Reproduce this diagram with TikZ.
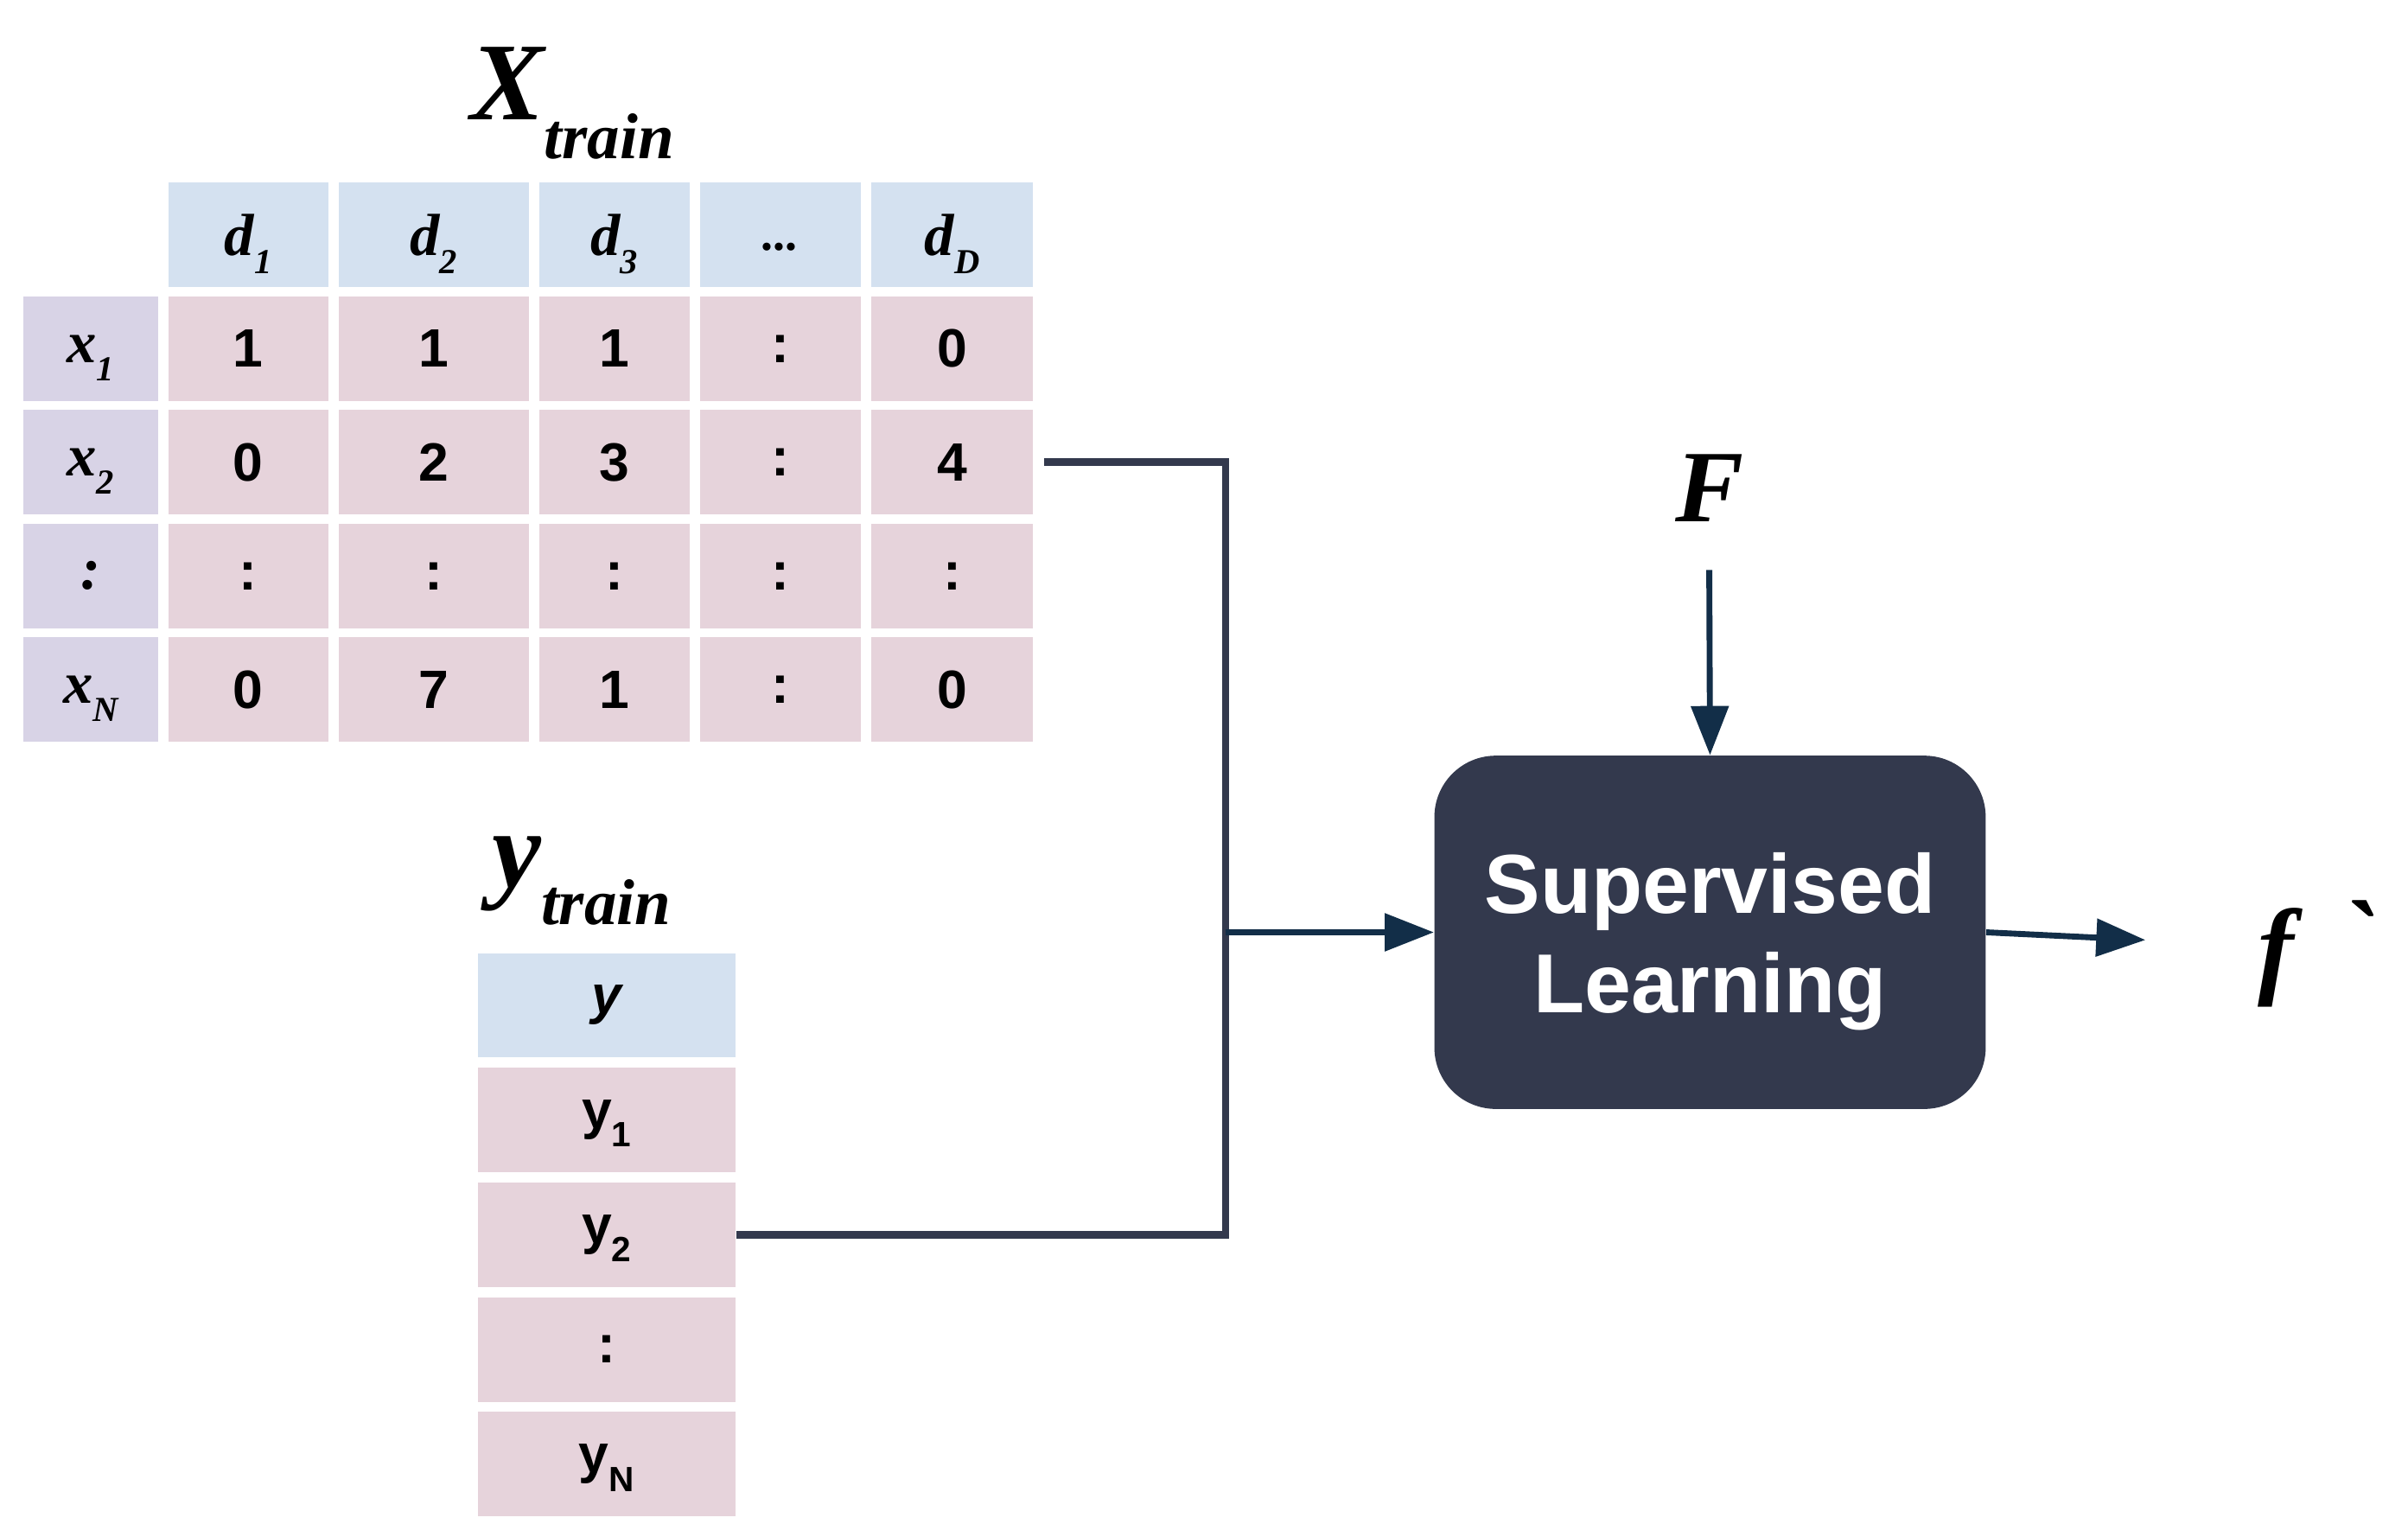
\documentclass[tikz,border=0pt]{standalone}
\usepackage{fontspec}
\setmainfont{Liberation Serif}
\setsansfont{Liberation Sans}
\newfontfamily\rawserif{Liberation Serif}[Ligatures=TeXOff]
\usetikzlibrary{chains,positioning,arrows.meta}
\definecolor{headblue}{RGB}{212,225,240}
\definecolor{cellpink}{RGB}{230,211,219}
\definecolor{rowlilac}{RGB}{216,211,230}
\definecolor{boxgrey}{RGB}{51,57,77}
\definecolor{arrownavy}{RGB}{18,46,72}
\newcommand\lowsub[1]{\raisebox{-0.24cm}[0pt][0pt]{\fontsize{13}{13}\selectfont #1}}
\newcommand\lowline[1]{\raisebox{-0.12cm}[\height][\depth]{#1}}
\tikzstyle{tcell}=[minimum height=1.36cm, inner sep=0pt, font=\sffamily\bfseries\fontsize{20}{20}\selectfont]
\tikzstyle{hcell}=[tcell, fill=headblue, font=\bfseries\itshape\fontsize{22}{22}\selectfont]
\tikzstyle{vcell}=[tcell, fill=cellpink]
\tikzstyle{rcell}=[tcell, fill=rowlilac, minimum width=1.76cm, font=\bfseries\itshape\fontsize{22}{22}\selectfont]
\tikzstyle{bus}=[draw=boxgrey, line width=2.8pt]
\tikzstyle{arr}=[draw=arrownavy, line width=2.2pt, -{Triangle[length=6.4mm,width=4.8mm]}]

\begin{document}
\begin{tikzpicture}
		\useasboundingbox (0,0) rectangle (31.36,-19.84);
		% X_train
		\node [anchor=base west, inner sep=0pt, font=\bfseries\itshape\fontsize{41}{41}\selectfont] (xTitle) at (6.12,-1.56) {X\raisebox{-0.5cm}{\fontsize{24}{24}\selectfont train}};
		\begin{scope}[shift={(1.18,-3.06)}, start chain=1 going right,node distance=1.2mm]
			\node [on chain=1,tcell, minimum width=1.76cm] (hdrBlank) {};
			\node [on chain=1,hcell, minimum width=2.08cm] (hdrD1) {d\lowsub{1}};
			\node [on chain=1,hcell, minimum width=2.48cm] (hdrD2) {d\lowsub{2}};
			\node [on chain=1,hcell, minimum width=1.96cm] (hdrD3) {d\lowsub{3}};
			\node [on chain=1,hcell, minimum width=2.10cm] (hdrDots) {\fontsize{18}{18}\selectfont\raisebox{-0.2cm}[0pt][0pt]{...}};
			\node [on chain=1,hcell, minimum width=2.10cm] (hdrDD) {d\lowsub{D}};
		\end{scope}
		\begin{scope}[shift={(1.18,-4.54)}, start chain=1 going right,node distance=1.2mm]
			\node [on chain=1,rcell] (x1Lab) {x\lowsub{1}};
			\node [on chain=1,vcell, minimum width=2.08cm] (x1d1) {1};
			\node [on chain=1,vcell, minimum width=2.48cm] (x1d2) {1};
			\node [on chain=1,vcell, minimum width=1.96cm] (x1d3) {1};
			\node [on chain=1,vcell, minimum width=2.10cm] (x1Dots) {:};
			\node [on chain=1,vcell, minimum width=2.10cm] (x1dD) {0};
		\end{scope}
		\begin{scope}[shift={(1.18,-6.02)}, start chain=1 going right,node distance=1.2mm]
			\node [on chain=1,rcell] (x2Lab) {x\lowsub{2}};
			\node [on chain=1,vcell, minimum width=2.08cm] (x2d1) {0};
			\node [on chain=1,vcell, minimum width=2.48cm] (x2d2) {2};
			\node [on chain=1,vcell, minimum width=1.96cm] (x2d3) {3};
			\node [on chain=1,vcell, minimum width=2.10cm] (x2Dots) {:};
			\node [on chain=1,vcell, minimum width=2.10cm] (x2dD) {4};
		\end{scope}
		\begin{scope}[shift={(1.18,-7.50)}, start chain=1 going right,node distance=1.2mm]
			\node [on chain=1,rcell] (xkLab) {:};
			\node [on chain=1,vcell, minimum width=2.08cm] (xkd1) {:};
			\node [on chain=1,vcell, minimum width=2.48cm] (xkd2) {:};
			\node [on chain=1,vcell, minimum width=1.96cm] (xkd3) {:};
			\node [on chain=1,vcell, minimum width=2.10cm] (xkDots) {:};
			\node [on chain=1,vcell, minimum width=2.10cm] (xkdD) {:};
		\end{scope}
		\begin{scope}[shift={(1.18,-8.98)}, start chain=1 going right,node distance=1.2mm]
			\node [on chain=1,rcell] (xNLab) {x\lowsub{N}};
			\node [on chain=1,vcell, minimum width=2.08cm] (xNd1) {0};
			\node [on chain=1,vcell, minimum width=2.48cm] (xNd2) {7};
			\node [on chain=1,vcell, minimum width=1.96cm] (xNd3) {1};
			\node [on chain=1,vcell, minimum width=2.10cm] (xNDots) {:};
			\node [on chain=1,vcell, minimum width=2.10cm] (xNdD) {0};
		\end{scope}
		% y_train
		\node [anchor=base west, inner sep=0pt, font=\bfseries\itshape\fontsize{41}{41}\selectfont] (yTitle) at (6.40,-11.56) {y\raisebox{-0.48cm}{\fontsize{24}{24}\selectfont train}};
		\begin{scope}[shift={(7.90,-13.09)}, start chain=2 going below,node distance=1.2mm]
			\node [on chain=2,hcell, minimum width=3.36cm, font=\sffamily\bfseries\itshape\fontsize{20}{20}\selectfont] (yHead) {y};
			\node [on chain=2,vcell, minimum width=3.36cm] (yOne) {y\lowsub{1}};
			\node [on chain=2,vcell, minimum width=3.36cm] (yTwo) {y\lowsub{2}};
			\node [on chain=2,vcell, minimum width=3.36cm] (yDots) {:};
			\node [on chain=2,vcell, minimum width=3.36cm] (yN) {y\lowsub{N}};
		\end{scope}
		% model
		\node [fill=boxgrey, rounded corners=0.8cm, minimum width=7.18cm, minimum height=4.6cm, text=white, align=center, font=\sffamily\bfseries\fontsize{31}{37}\selectfont] (slBox) at (22.27,-12.14) {\lowline{Supervised}\\\lowline{Learning}};
		\node [font=\bfseries\itshape\fontsize{38}{38}\selectfont] (fLabel) at (22.26,-6.36) {F};
		\node [anchor=base west, inner sep=0pt, font=\rawserif\bfseries\itshape\fontsize{40}{40}\selectfont] (fHat) at (29.40,-12.82) {f\hspace{0.6cm}\raisebox{0.12cm}{`}};
		\coordinate (busIn) at (15.96,-12.14);
		\coordinate (fOutTip) at (27.94,-12.24);
		\draw[bus] ([xshift=1.4mm]x2dD.east) -| (busIn) |- (yTwo.east);
		\draw[arr] (busIn) -- (slBox.west);
		\draw[arr] ([yshift=-0.5cm]fLabel.south) -- (slBox.north);
		\draw[arr] (slBox.east) -- (fOutTip);
	\end{tikzpicture}
\end{document}
